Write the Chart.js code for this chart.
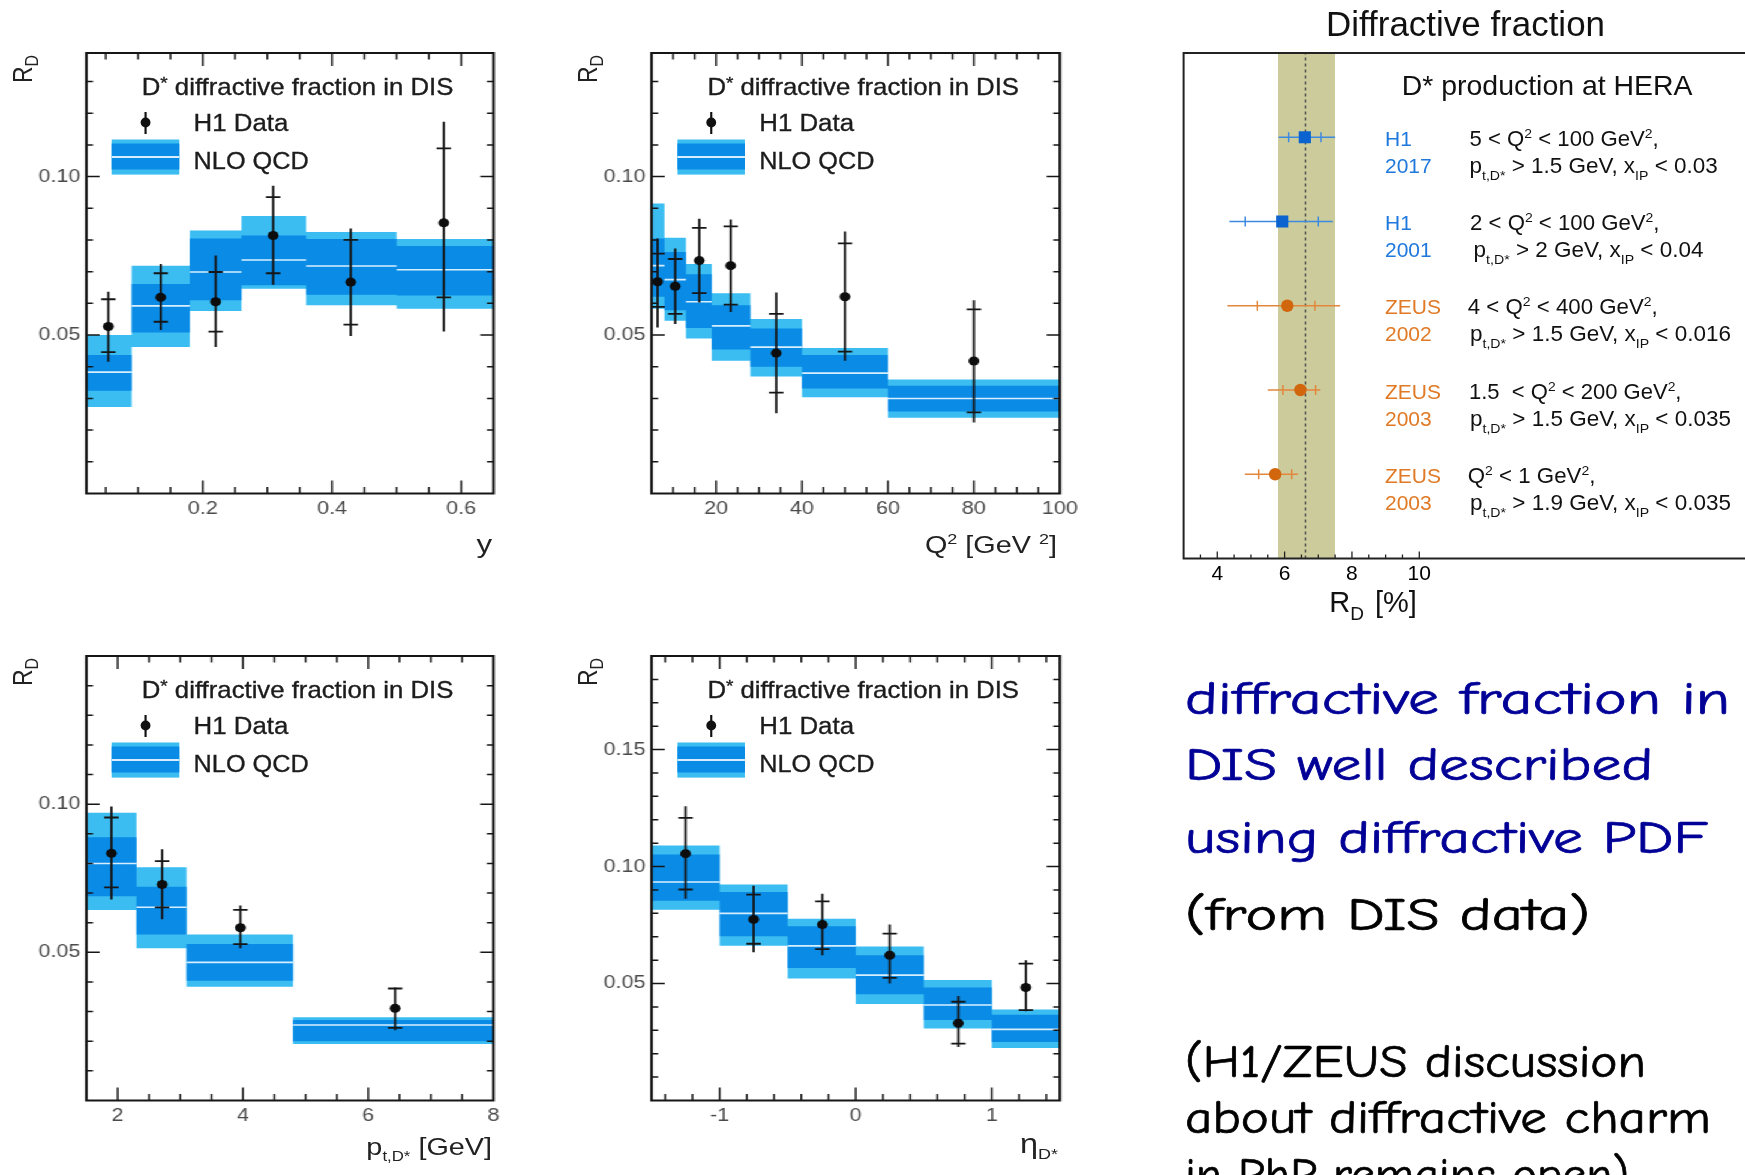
<!DOCTYPE html>
<html>
<head>
<meta charset="utf-8">
<title>D* diffractive fraction</title>
<script src="https://cdn.jsdelivr.net/npm/chart.js@4.4.1/dist/chart.umd.min.js"></script>
<style>
  html, body { margin:0; padding:0; background:#fff; }
  body { width:1745px; height:1175px; overflow:hidden; position:relative; }
  #stretch { position:absolute; left:0; top:0; width:910px; height:1175px; transform:scaleX(1.2); transform-origin:0 0; }
  #stretch canvas, #c5 { position:absolute; }
  #overlay { position:absolute; left:0; top:0; pointer-events:none; }
</style>
</head>
<body>
<div id="stretch">
  <canvas id="cY"></canvas>
  <canvas id="cQ2"></canvas>
  <canvas id="cPt"></canvas>
  <canvas id="cEta"></canvas>
</div>
<canvas id="c5"></canvas>
<svg id="overlay" width="1745" height="1175" xmlns="http://www.w3.org/2000/svg"></svg>
<script>
// ================= DATA =================
// Panel: R_D vs y
const yBinEdges    = [0.02, 0.09, 0.18, 0.26, 0.36, 0.50, 0.65];
const yNloCentral  = [0.0383, 0.0592, 0.0699, 0.0737, 0.0718, 0.0706];
const yNloInnerLo  = [0.0324, 0.0508, 0.0610, 0.0657, 0.0627, 0.0625];
const yNloInnerHi  = [0.0437, 0.0661, 0.0805, 0.0814, 0.0803, 0.0781];
const yNloOuterLo  = [0.0273, 0.0462, 0.0576, 0.0646, 0.0594, 0.0583];
const yNloOuterHi  = [0.0500, 0.0719, 0.0830, 0.0876, 0.0825, 0.0803];
const yDataX       = [0.054, 0.135, 0.220, 0.309, 0.429, 0.573];
const yDataVal     = [0.0527, 0.0619, 0.0605, 0.0814, 0.0667, 0.0854];
const yDataStatLo  = [0.0446, 0.0542, 0.0511, 0.0695, 0.0533, 0.0619];
const yDataStatHi  = [0.0613, 0.0695, 0.0699, 0.0935, 0.0800, 0.1089];
const yDataTotLo   = [0.0416, 0.0516, 0.0462, 0.0659, 0.0497, 0.0511];
const yDataTotHi   = [0.0637, 0.0724, 0.0751, 0.0971, 0.0836, 0.1173];
const yTickLabelsX = [0.2, 0.4, 0.6];
const yTickLabelsY = [0.05, 0.10];

// Panel: R_D vs Q^2
const q2BinEdges    = [5, 8, 13, 19, 28, 40, 60, 100];
const q2NloCentral  = [0.0719, 0.0675, 0.0605, 0.0529, 0.0462, 0.0380, 0.0300];
const q2NloInnerLo  = [0.0621, 0.0578, 0.0522, 0.0454, 0.0400, 0.0331, 0.0259];
const q2NloInnerHi  = [0.0805, 0.0762, 0.0692, 0.0594, 0.0521, 0.0437, 0.0340];
const q2NloOuterLo  = [0.0583, 0.0545, 0.0489, 0.0419, 0.0369, 0.0304, 0.0239];
const q2NloOuterHi  = [0.0915, 0.0807, 0.0724, 0.0632, 0.0551, 0.0459, 0.0360];
const q2DataX       = [6.4, 10.5, 16.1, 23.4, 34.0, 50.0, 80.0];
const q2DataVal     = [0.0668, 0.0654, 0.0735, 0.0719, 0.0443, 0.0621, 0.0418];
const q2DataStatLo  = [0.0589, 0.0567, 0.0632, 0.0596, 0.0318, 0.0448, 0.0256];
const q2DataStatHi  = [0.0757, 0.0740, 0.0838, 0.0843, 0.0567, 0.0789, 0.0581];
const q2DataTotLo   = [0.0524, 0.0535, 0.0603, 0.0573, 0.0253, 0.0419, 0.0224];
const q2DataTotHi   = [0.0805, 0.0773, 0.0867, 0.0865, 0.0634, 0.0827, 0.0610];
const q2TickLabelsX = [20, 40, 60, 80, 100];
const q2TickLabelsY = [0.05, 0.10];

// Panel: R_D vs p_t,D*
const ptBinEdges    = [1.5, 2.3, 3.1, 4.8, 8.0];
const ptNloCentral  = [0.0800, 0.0652, 0.0466, 0.0255];
const ptNloInnerLo  = [0.0689, 0.0560, 0.0404, 0.0200];
const ptNloInnerHi  = [0.0888, 0.0721, 0.0528, 0.0272];
const ptNloOuterLo  = [0.0643, 0.0514, 0.0384, 0.0191];
const ptNloOuterHi  = [0.0971, 0.0787, 0.0560, 0.0281];
const ptDataX       = [1.90, 2.71, 3.96, 6.43];
const ptDataVal     = [0.0834, 0.0729, 0.0583, 0.0311];
const ptDataStatLo  = [0.0719, 0.0652, 0.0528, 0.0245];
const ptDataStatHi  = [0.0955, 0.0808, 0.0643, 0.0378];
const ptDataTotLo   = [0.0678, 0.0612, 0.0514, 0.0237];
const ptDataTotHi   = [0.0992, 0.0848, 0.0658, 0.0381];
const ptTickLabelsX = [2, 4, 6, 8];
const ptTickLabelsY = [0.05, 0.10];

// Panel: R_D vs eta_D*
const etaBinEdges    = [-1.5, -1.0, -0.5, 0.0, 0.5, 1.0, 1.5];
const etaNloCentral  = [0.0934, 0.0800, 0.0661, 0.0536, 0.0408, 0.0304];
const etaNloInnerLo  = [0.0854, 0.0702, 0.0566, 0.0454, 0.0344, 0.0250];
const etaNloInnerHi  = [0.1051, 0.0891, 0.0745, 0.0621, 0.0483, 0.0367];
const etaNloOuterLo  = [0.0815, 0.0662, 0.0522, 0.0413, 0.0308, 0.0224];
const etaNloOuterHi  = [0.1090, 0.0923, 0.0777, 0.0658, 0.0515, 0.0389];
const etaDataX       = [-1.25, -0.75, -0.245, 0.25, 0.754, 1.25];
const etaDataVal     = [0.1055, 0.0774, 0.0752, 0.0621, 0.0330, 0.0483];
const etaDataStatLo  = [0.0902, 0.0670, 0.0647, 0.0524, 0.0243, 0.0386];
const etaDataStatHi  = [0.1208, 0.0880, 0.0851, 0.0713, 0.0422, 0.0585];
const etaDataTotLo   = [0.0862, 0.0634, 0.0621, 0.0500, 0.0229, 0.0381];
const etaDataTotHi   = [0.1258, 0.0918, 0.0884, 0.0752, 0.0447, 0.0599];
const etaTickLabelsX = [-1, 0, 1];
const etaTickLabelsY = [0.05, 0.10, 0.15];

// Summary: diffractive fraction R_D [%]
const sumExperiment = ['H1', 'H1', 'ZEUS', 'ZEUS', 'ZEUS'];
const sumYear       = ['2017', '2001', '2002', '2003', '2003'];
const sumRow        = [5, 4, 3, 2, 1];
const sumVal        = [6.60, 5.93, 6.08, 6.47, 5.72];
const sumStatLo     = [6.12, 4.83, 5.19, 5.95, 5.23];
const sumStatHi     = [7.08, 7.00, 6.90, 6.92, 6.21];
const sumTotLo      = [5.82, 4.36, 4.30, 5.50, 4.82];
const sumTotHi      = [7.50, 7.43, 7.65, 7.06, 6.40];
const sumBand       = [5.80, 7.50];
const sumCentral    = 6.62;
const sumCondLine1  = ['5 < Q^2 < 100 GeV^2,', '2 < Q^2 < 100 GeV^2,', '4 < Q^2 < 400 GeV^2,', '1.5  < Q^2 < 200 GeV^2,', 'Q^2 < 1 GeV^2,'];
const sumCondLine2  = ['p_{t,D*} > 1.5 GeV, x_{IP} < 0.03', 'p_{t,D*} > 2 GeV, x_{IP} < 0.04', 'p_{t,D*} > 1.5 GeV, x_{IP} < 0.016', 'p_{t,D*} > 1.5 GeV, x_{IP} < 0.035', 'p_{t,D*} > 1.9 GeV, x_{IP} < 0.035'];
const sumTickLabels = [4, 6, 8, 10];

// ================= STYLE =================
const LIGHT = '#3bbdf2', DARK = '#0a8be6', CLINE = 'rgba(225,243,255,0.95)';
const INK = '#161616';
Chart.defaults.font.family = 'Liberation Sans';

// ================= HELPERS =================
function stepPoints(edges, vals) {
  const p = [];
  vals.forEach((v, i) => { p.push({x: edges[i], y: v}, {x: edges[i + 1], y: v}); });
  return p;
}
function segmentPoints(edges, vals) {
  const p = [];
  vals.forEach((v, i) => { p.push({x: edges[i], y: v}, {x: edges[i + 1], y: v}, {x: edges[i + 1], y: null}); });
  return p;
}
function vBarPoints(xs, lo, hi) {
  const p = [];
  xs.forEach((x, i) => { p.push({x: x, y: lo[i]}, {x: x, y: hi[i]}, {x: x, y: null}); });
  return p;
}
function vCapPoints(xs, lo, hi) {
  const p = [];
  xs.forEach((x, i) => { p.push({x: x, y: lo[i]}, {x: x, y: hi[i]}); });
  return p;
}
function markerPoints(xs, ys) { return xs.map((x, i) => ({x: x, y: ys[i]})); }
function range(a, b, step) {
  const r = [];
  const start = Math.ceil((a - 1e-9) / step) * step;
  for (let v = start; v <= b + 1e-9; v += step) r.push(+v.toFixed(6));
  return r;
}

// frame + inward ticks (ROOT style)
const rootFrame = {
  id: 'rootFrame',
  afterDatasetsDraw(chart, args, o) {
    const {ctx, chartArea: a, scales} = chart;
    const xs = scales.x, ys = scales.y;
    ctx.save();
    ctx.strokeStyle = o.color || INK;
    ctx.lineWidth = o.tickWidth;
    ctx.beginPath();
    const inside = (p, lo, hi) => p > lo + 0.8 && p < hi - 0.8;
    const xt = (vals, len) => vals.forEach(v => {
      const p = xs.getPixelForValue(v);
      if (!inside(p, a.left, a.right)) return;
      if (o.ticksBottom) { ctx.moveTo(p, a.bottom); ctx.lineTo(p, a.bottom - len); }
      if (o.ticksTop) { ctx.moveTo(p, a.top); ctx.lineTo(p, a.top + len); }
    });
    const yt = (vals, len) => vals.forEach(v => {
      const p = ys.getPixelForValue(v);
      if (!inside(p, a.top, a.bottom)) return;
      if (o.ticksLeft) { ctx.moveTo(a.left, p); ctx.lineTo(a.left + len, p); }
      if (o.ticksRight) { ctx.moveTo(a.right, p); ctx.lineTo(a.right - len, p); }
    });
    xt(o.xMinor || [], o.xMinorLen); xt(o.xMajor || [], o.xMajorLen);
    yt(o.yMinor || [], o.yMinorLen); yt(o.yMajor || [], o.yMajorLen);
    ctx.stroke();
    ctx.lineWidth = o.frameWidth;
    ctx.beginPath();
    const s = o.sides;
    if (s.includes('left')) { ctx.moveTo(a.left, a.top); ctx.lineTo(a.left, a.bottom); }
    if (s.includes('right')) { ctx.moveTo(a.right, a.top); ctx.lineTo(a.right, a.bottom); }
    if (s.includes('top')) { ctx.moveTo(a.left - o.frameWidth / 2, a.top); ctx.lineTo(a.right + o.frameWidth / 2, a.top); }
    if (s.includes('bottom')) { ctx.moveTo(a.left - o.frameWidth / 2, a.bottom); ctx.lineTo(a.right + o.frameWidth / 2, a.bottom); }
    ctx.stroke();
    ctx.restore();
  }
};

// ================= HISTOGRAM PANELS (drawn in un-stretched units) =================
const panels = [
  { id: 'cY', area: {l: 71.8, r: 411.1, t: 53, b: 493.5}, xMin: 0.02, xMax: 0.65, yMax: 0.139,
    edges: yBinEdges, central: yNloCentral, inLo: yNloInnerLo, inHi: yNloInnerHi, outLo: yNloOuterLo, outHi: yNloOuterHi,
    x: yDataX, val: yDataVal, sLo: yDataStatLo, sHi: yDataStatHi, tLo: yDataTotLo, tHi: yDataTotHi,
    xLabels: yTickLabelsX, yLabels: yTickLabelsY, xFmt: v => v.toFixed(1), xMinorStep: 0.05, xMajorStep: 0.2 },
  { id: 'cQ2', area: {l: 543.1, r: 883.3, t: 53, b: 493.5}, xMin: 5, xMax: 100, yMax: 0.139,
    edges: q2BinEdges, central: q2NloCentral, inLo: q2NloInnerLo, inHi: q2NloInnerHi, outLo: q2NloOuterLo, outHi: q2NloOuterHi,
    x: q2DataX, val: q2DataVal, sLo: q2DataStatLo, sHi: q2DataStatHi, tLo: q2DataTotLo, tHi: q2DataTotHi,
    xLabels: q2TickLabelsX, yLabels: q2TickLabelsY, xFmt: v => String(v), xMinorStep: 5, xMajorStep: 20 },
  { id: 'cPt', area: {l: 71.9, r: 411.1, t: 656, b: 1100.5}, xMin: 1.5, xMax: 8, yMax: 0.15,
    edges: ptBinEdges, central: ptNloCentral, inLo: ptNloInnerLo, inHi: ptNloInnerHi, outLo: ptNloOuterLo, outHi: ptNloOuterHi,
    x: ptDataX, val: ptDataVal, sLo: ptDataStatLo, sHi: ptDataStatHi, tLo: ptDataTotLo, tHi: ptDataTotHi,
    xLabels: ptTickLabelsX, yLabels: ptTickLabelsY, xFmt: v => String(v), xMinorStep: 0.5, xMajorStep: 2 },
  { id: 'cEta', area: {l: 543.1, r: 883.3, t: 656, b: 1100.5}, xMin: -1.5, xMax: 1.5, yMax: 0.19,
    edges: etaBinEdges, central: etaNloCentral, inLo: etaNloInnerLo, inHi: etaNloInnerHi, outLo: etaNloOuterLo, outHi: etaNloOuterHi,
    x: etaDataX, val: etaDataVal, sLo: etaDataStatLo, sHi: etaDataStatHi, tLo: etaDataTotLo, tHi: etaDataTotHi,
    xLabels: etaTickLabelsX, yLabels: etaTickLabelsY, xFmt: v => String(v), xMinorStep: 0.2, xMajorStep: 1 }
];

function makeHistPanel(P) {
  const cv = document.getElementById(P.id);
  const yW = 60, padT = 20;
  const W = P.area.r - P.area.l, H = P.area.b - P.area.t;
  const cw = Math.ceil(yW + W + 30), ch = Math.ceil(padT + H + 45);
  cv.width = cw; cv.height = ch;
  cv.style.width = cw + 'px'; cv.style.height = ch + 'px';
  cv.style.left = (P.area.l - yW) + 'px'; cv.style.top = (P.area.t - padT) + 'px';
  const padR = cw - yW - W, xH = ch - padT - H;
  const tickFont = {family: 'Liberation Sans', size: 18};
  return new Chart(cv, {
    type: 'line',
    data: { datasets: [
      {data: stepPoints(P.edges, P.outHi), borderWidth: 0, pointRadius: 0, fill: false, order: 10},
      {data: stepPoints(P.edges, P.outLo), borderWidth: 0, pointRadius: 0, fill: '-1', backgroundColor: LIGHT, order: 10},
      {data: stepPoints(P.edges, P.inHi), borderWidth: 0, pointRadius: 0, fill: false, order: 9},
      {data: stepPoints(P.edges, P.inLo), borderWidth: 0, pointRadius: 0, fill: '-1', backgroundColor: DARK, order: 9},
      {data: segmentPoints(P.edges, P.central), borderColor: CLINE, borderWidth: 1.6, pointRadius: 0, fill: false, order: 8},
      {data: vBarPoints(P.x, P.tLo, P.tHi), borderColor: INK, borderWidth: 1.9, pointRadius: 0, fill: false, order: 7},
      {data: vCapPoints(P.x, P.sLo, P.sHi), showLine: false, pointStyle: 'line', pointRadius: 6,
        pointBorderColor: INK, pointBorderWidth: 1.8, order: 6},
      {data: markerPoints(P.x, P.val), showLine: false, pointStyle: 'circle', pointRadius: 4.5,
        pointBackgroundColor: '#0d0d0d', pointBorderWidth: 0, order: 5}
    ]},
    options: {
      responsive: false, animation: false, events: [],
      layout: {padding: {left: 0, top: padT, right: padR, bottom: 0}, autoPadding: false},
      plugins: {
        legend: {display: false}, tooltip: {enabled: false},
        rootFrame: {
          sides: ['left', 'right', 'top', 'bottom'], frameWidth: 2.2, tickWidth: 1.5, color: INK,
          ticksBottom: true, ticksTop: true, ticksLeft: true, ticksRight: true,
          xMinor: range(P.xMin, P.xMax, P.xMinorStep), xMinorLen: 6.5,
          xMajor: range(P.xMin, P.xMax, P.xMajorStep), xMajorLen: 13,
          yMinor: range(0, P.yMax, 0.01), yMinorLen: 5.5,
          yMajor: range(0, P.yMax, 0.05), yMajorLen: 11
        }
      },
      scales: {
        x: { type: 'linear', min: P.xMin, max: P.xMax,
          afterFit: s => { s.height = xH; },
          afterBuildTicks: s => { s.ticks = P.xLabels.map(v => ({value: v})); },
          ticks: {callback: v => P.xFmt(v), font: tickFont, color: '#4a4a4a', padding: 5, maxRotation: 0, autoSkip: false},
          grid: {display: false, drawTicks: false}, border: {display: false} },
        y: { type: 'linear', min: 0, max: P.yMax,
          afterFit: s => { s.width = yW; },
          afterBuildTicks: s => { s.ticks = P.yLabels.map(v => ({value: v})); },
          ticks: {callback: v => v.toFixed(2), font: tickFont, color: '#4a4a4a', padding: 5, autoSkip: false},
          grid: {display: false, drawTicks: false}, border: {display: false} }
      }
    },
    plugins: [rootFrame]
  });
}
panels.forEach(makeHistPanel);

// ================= SUMMARY PANEL (real pixels) =================
const S = {l: 1183.6, t: 53, b: 558.5, xMin: 3, xMax: 21, pxPerUnit: 33.67};
const c5 = document.getElementById('c5');
const c5Left = Math.floor(S.l - 5), c5Top = S.t - 20;
const c5PadL = S.l - c5Left, c5W = (S.xMax - S.xMin) * S.pxPerUnit;
const c5w = Math.ceil(c5PadL + c5W + 6), c5h = Math.ceil(20 + (S.b - S.t) + 40);
c5.width = c5w; c5.height = c5h;
c5.style.width = c5w + 'px'; c5.style.height = c5h + 'px';
c5.style.left = c5Left + 'px'; c5.style.top = c5Top + 'px';

const expStyle = {
  H1:   {bar: '#3d8ae0', marker: '#0b63cf', style: 'rect', radius: 8.6, text: '#1f78dc'},
  ZEUS: {bar: '#e3873c', marker: '#d2660c', style: 'circle', radius: 6.2, text: '#e07a26'}
};
function pick(arr, exp) { return arr.filter((v, i) => sumExperiment[i] === exp); }
const sumDatasets = [
  {data: [{x: sumBand[0], y: 6}, {x: sumBand[1], y: 6}], borderWidth: 0, pointRadius: 0, fill: 'origin', backgroundColor: '#cbcb9b', order: 20},
  {data: [{x: sumCentral, y: 0}, {x: sumCentral, y: 6}], borderColor: '#555', borderWidth: 1.6, borderDash: [3, 3], pointRadius: 0, fill: false, order: 19}
];
['H1', 'ZEUS'].forEach((exp, k) => {
  const st = expStyle[exp];
  const rows = pick(sumRow, exp);
  const bars = [];
  rows.forEach((r, i) => { bars.push({x: pick(sumTotLo, exp)[i], y: r}, {x: pick(sumTotHi, exp)[i], y: r}, {x: pick(sumTotHi, exp)[i], y: null}); });
  const caps = [];
  rows.forEach((r, i) => { caps.push({x: pick(sumStatLo, exp)[i], y: r}, {x: pick(sumStatHi, exp)[i], y: r}); });
  const marks = rows.map((r, i) => ({x: pick(sumVal, exp)[i], y: r}));
  sumDatasets.push(
    {data: bars, borderColor: st.bar, borderWidth: 1.6, pointRadius: 0, fill: false, order: 12 - k},
    {data: caps, showLine: false, pointStyle: 'line', pointRotation: 90, pointRadius: 5, pointBorderColor: st.bar, pointBorderWidth: 1.5, order: 10 - k},
    {data: marks, showLine: false, pointStyle: st.style, pointRadius: st.radius, pointBackgroundColor: st.marker, pointBorderWidth: 0, order: 8 - k}
  );
});
const chart5 = new Chart(c5, {
  type: 'line',
  data: {datasets: sumDatasets},
  options: {
    responsive: false, animation: false, events: [],
    layout: {padding: {left: c5PadL, top: 20, right: c5w - c5PadL - c5W, bottom: 0}, autoPadding: false},
    plugins: {
      legend: {display: false}, tooltip: {enabled: false},
      rootFrame: {
        sides: ['left', 'top', 'bottom'], frameWidth: 2, tickWidth: 1.3, color: '#222',
        ticksBottom: true,
        xMinor: range(3.5, 10, 0.5), xMinorLen: 4,
        xMajor: range(4, 10, 2), xMajorLen: 7
      }
    },
    scales: {
      x: { type: 'linear', min: S.xMin, max: S.xMax,
        afterFit: s => { s.height = c5h - 20 - (S.b - S.t); },
        afterBuildTicks: s => { s.ticks = sumTickLabels.map(v => ({value: v})); },
        ticks: {font: {family: 'Liberation Sans', size: 21}, color: '#000', padding: 3, maxRotation: 0, autoSkip: false},
        grid: {display: false, drawTicks: false}, border: {display: false} },
      y: { type: 'linear', min: 0, max: 6, display: false }
    }
  },
  plugins: [rootFrame]
});

// ================= TEXT (SVG overlay) =================
function esc(s) { return s.replace(/&/g, '&amp;').replace(/</g, '&lt;').replace(/>/g, '&gt;').replace(/ {2}/g, ' \u00a0'); }
function rich(str, small, supShift, subShift) {
  const re = /\^(\{[^}]*\}|.)|_(\{[^}]*\}|.)/g;
  let out = '', last = 0, cur = 0, m;
  const strip = t => t.replace(/^\{|\}$/g, '');
  const emit = (s, off, size) => {
    if (!s) return;
    const dy = off - cur; cur = off;
    out += '<tspan dy="' + dy + '"' + (size ? ' font-size="' + size + '"' : '') + '>' + esc(s) + '</tspan>';
  };
  while ((m = re.exec(str))) {
    emit(str.slice(last, m.index), 0, null);
    if (m[1] !== undefined) emit(strip(m[1]), -supShift, small); else emit(strip(m[2]), subShift, small);
    last = re.lastIndex;
  }
  emit(str.slice(last), 0, null);
  return out;
}
function txt(x, y, size, content, opt) {
  opt = opt || {};
  let a = '<text x="' + x + '" y="' + y + '" font-size="' + size + '" fill="' + (opt.fill || '#1a1a1a') + '"';
  if (opt.anchor) a += ' text-anchor="' + opt.anchor + '"';
  if (opt.len) a += ' textLength="' + opt.len + '" lengthAdjust="spacingAndGlyphs"';
  if (opt.family) a += ' font-family="' + opt.family + '"';
  if (opt.transform) a += ' transform="' + opt.transform + '"';
  if (opt.stroke) a += ' stroke="' + (opt.fill || '#1a1a1a') + '" stroke-width="' + opt.stroke + '"';
  return a + '>' + content + '</text>';
}

let svg = '<g font-family="Liberation Sans, Arial, sans-serif" transform="scale(1.2,1)">';
const legendOffsets = [[0, 0], [471.4, 0], [0, 603], [471.4, 603]];
legendOffsets.forEach(([dx, dy]) => {
  svg += '<g transform="translate(' + dx + ',' + dy + ')">';
  svg += txt(118.1, 95, 23, rich('D^* diffractive fraction in DIS', 17, 6, 0), {len: 259.7, fill: '#1c1c1c', stroke: 0.35});
  svg += '<line x1="121.3" y1="112" x2="121.3" y2="134" stroke="#111" stroke-width="1.8"/>';
  svg += '<ellipse cx="121.3" cy="122.5" rx="4.1" ry="5" fill="#111"/>';
  svg += txt(161.3, 131.5, 24.5, 'H1 Data', {len: 79, fill: '#1c1c1c', stroke: 0.35});
  svg += '<rect x="93.1" y="139.5" width="56.3" height="35.1" fill="' + LIGHT + '"/>';
  svg += '<rect x="93.1" y="143.5" width="56.3" height="26" fill="' + DARK + '"/>';
  svg += '<rect x="93.1" y="156" width="56.3" height="2" fill="' + CLINE + '"/>';
  svg += txt(161.3, 168.8, 24.5, 'NLO QCD', {len: 96, fill: '#1c1c1c', stroke: 0.35});
  svg += txt(0, 0, 23, rich('R_D', 16, 0, 5), {fill: '#222', transform: 'translate(26.5,83) rotate(-90)'});
  svg += '</g>';
});
svg += txt(410, 553, 26, 'y', {anchor: 'end', fill: '#222'});
svg += txt(880.8, 553, 24, rich('Q^2 [GeV ^2]', 15, 9, 0), {anchor: 'end', fill: '#222'});
svg += txt(410, 1155, 24, rich('p_{t,D*} [GeV]', 14, 0, 6), {anchor: 'end', fill: '#222'});
svg += txt(881.7, 1153, 27, rich('η_{D*}', 15, 0, 6), {anchor: 'end', fill: '#222'});
svg += '</g>';

// summary panel texts
svg += '<g font-family="Liberation Sans, Arial, sans-serif">';
svg += txt(1326, 36, 35, 'Diffractive fraction', {len: 279, fill: '#111'});
svg += txt(1401.8, 95, 28, 'D* production at HERA', {len: 290.7, fill: '#111'});
const line1X = [1469.5, 1470, 1467.8, 1468.9, 1467.8];
const line1W = [189.3, 189.5, 189.9, 212.6, 127.6];
const line2X = [1469.5, 1473.6, 1470, 1470, 1470];
const line2W = [248.2, 229.9, 261, 261, 261];
sumRow.forEach((r, i) => {
  const py = c5Top + chart5.scales.y.getPixelForValue(r);
  const col = expStyle[sumExperiment[i]].text;
  svg += txt(1385, py + 8.5, 21, sumExperiment[i], {fill: col});
  svg += txt(1385, py + 35.5, 21, sumYear[i], {fill: col});
  svg += txt(line1X[i], py + 8.5, 21.5, rich(sumCondLine1[i], 13.5, 8, 0), {len: line1W[i], fill: '#111'});
  svg += txt(line2X[i], py + 35.5, 21.5, rich(sumCondLine2[i], 13.5, 0, 7), {len: line2W[i], fill: '#111'});
});
svg += txt(1329.3, 612, 29, rich('R_D', 19, 0, 8), {fill: '#111'});
svg += txt(1375, 612, 29, '[%]', {fill: '#111'});
svg += '</g>';

// right-hand comments
const cfam = "'Comic Sans MS','Comic Neue','Open Sans',sans-serif";
const comments = [
  ['diffractive fraction in', 714, 545, '#000096'],
  ['DIS well described', 780, 468, '#000096'],
  ['using diffractive PDF', 853, 523, '#000096'],
  ['(from DIS data)', 930, 405, '#000000'],
  ['(H1/ZEUS discussion', 1077, 461, '#000000'],
  ['about diffractive charm', 1133, 526, '#000000'],
  ['in PhP remains open)', 1190, 444, '#000000']
];
comments.forEach(([t, y, w, c]) => { svg += txt(1185, y, 46, esc(t), {len: w, fill: c, family: cfam, stroke: 0.7}); });

document.getElementById('overlay').innerHTML = svg;
</script>
</body>
</html>
